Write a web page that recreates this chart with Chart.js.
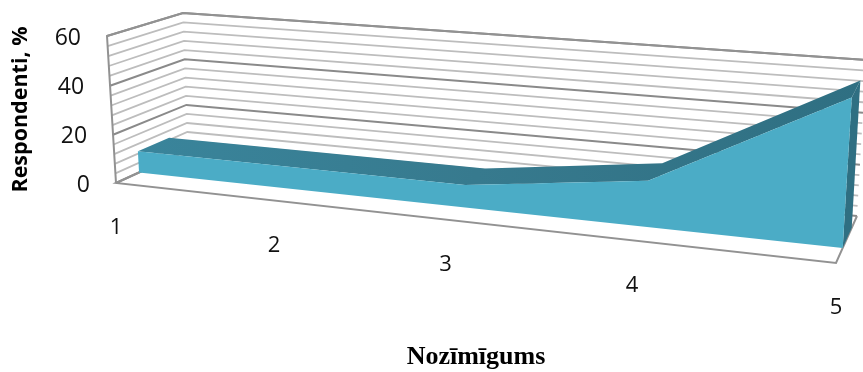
<!DOCTYPE html>
<html>
<head>
<meta charset="utf-8">
<style>
html, body { margin: 0; padding: 0; background: #fff; overflow: hidden; }
#wrap { width: 863px; height: 372px; }
</style>
<script src="https://cdn.jsdelivr.net/npm/chart.js@4"></script>
</head>
<body>
<div id="wrap"><canvas id="areaChart" width="863" height="372"></canvas></div>
<script>
const categories = ['1', '2', '3', '4', '5'];
const respondents = [9, 9, 9, 18, 56];
const yMajorLabels = [0, 20, 40, 60];

// box corners on screen: [bottom-left, bottom-right, top-right, top-left]
const frontWall = [[116, 183], [836, 263], [846, 99], [107, 36]];
const backWall = [[188, 150], [857, 216], [866, 60], [183, 13]];
const seriesFront = 0.32;
const seriesBack = 0.75;
const foreshorten = 1.022;
const labelForeshorten = 1.051;

function homography(q) {
    const [[x0, y0], [x1, y1], [x2, y2], [x3, y3]] = q;
    const dx1 = x1 - x2, dx2 = x3 - x2, sx = x0 - x1 + x2 - x3;
    const dy1 = y1 - y2, dy2 = y3 - y2, sy = y0 - y1 + y2 - y3;
    const det = dx1 * dy2 - dx2 * dy1;
    const g = (sx * dy2 - dx2 * sy) / det;
    const h = (dx1 * sy - sx * dy1) / det;
    const a = x1 - x0 + g * x1, b = x3 - x0 + h * x3;
    const d = y1 - y0 + g * y1, e = y3 - y0 + h * y3;
    return (u, v) => {
        const w = g * u + h * v + 1;
        return [(a * u + b * v + x0) / w, (d * u + e * v + y0) / w];
    };
}

const frontMap = homography(frontWall);
const backMap = homography(backWall);

function project(u, v, depth, r = foreshorten) {
    const s = u / (u + (1 - u) * r);
    const f = frontMap(s, v), b = backMap(s, v);
    return [f[0] + (b[0] - f[0]) * depth, f[1] + (b[1] - f[1]) * depth];
}

function polyline(ctx, pts, color, width) {
    ctx.beginPath();
    pts.forEach((p, i) => i ? ctx.lineTo(p[0], p[1]) : ctx.moveTo(p[0], p[1]));
    ctx.strokeStyle = color;
    ctx.lineWidth = width;
    ctx.stroke();
}

function polygon(ctx, pts, color) {
    ctx.beginPath();
    pts.forEach((p, i) => i ? ctx.lineTo(p[0], p[1]) : ctx.moveTo(p[0], p[1]));
    ctx.closePath();
    ctx.fillStyle = color;
    ctx.fill();
}

const box3d = {
    id: 'box3d',
    beforeDatasetsDraw(chart) {
        const ctx = chart.ctx, area = chart.chartArea;
        const yScale = chart.scales.y, xScale = chart.scales.x;
        const normY = px => (area.bottom - px) / area.height;
        const normX = px => (px - area.left) / area.width;

        ctx.save();
        // walls, from the value axis ticks
        yScale.ticks.forEach(t => {
            const v = normY(yScale.getPixelForValue(t.value));
            const major = yMajorLabels.includes(t.value);
            polyline(ctx, [project(0, v, 0), project(0, v, 1), project(1, v, 1)],
                major ? '#8a8a8a' : '#bdbdbd', major ? 2 : 1.8);
        });
        // frame
        polyline(ctx, [project(0, 0, 0), project(0, 1, 0), project(0, 1, 1), project(1, 1, 1)], '#929292', 2);
        polyline(ctx, [project(0, 0, 1), project(0, 0, 0), project(1, 0, 0), project(1, 0, 1)], '#929292', 2);

        // series
        const pts = chart.getDatasetMeta(0).data;
        const zero = normY(yScale.getPixelForValue(0));
        const tops = pts.map(p => [normX(p.x), normY(p.y)]);
        const last = tops[tops.length - 1];

        polygon(ctx, [project(1, zero, seriesFront), project(last[0], last[1], seriesFront),
            project(last[0], last[1], seriesBack), project(1, zero, seriesBack)], '#2f6f82');

        const shade = ctx.createLinearGradient(area.left, 0, area.right, 0);
        shade.addColorStop(0, '#3a869d');
        shade.addColorStop(0.5, '#377a8e');
        shade.addColorStop(1, '#2f6f82');
        const topFace = tops.map(p => project(p[0], p[1], seriesFront));
        tops.slice().reverse().forEach(p => topFace.push(project(p[0], p[1], seriesBack)));
        polygon(ctx, topFace, shade);

        const frontFace = tops.map(p => project(p[0], p[1], seriesFront));
        frontFace.push(project(1, zero, seriesFront), project(0, zero, seriesFront));
        polygon(ctx, frontFace, '#4bacc6');

        // tick labels follow the slanted edges
        ctx.font = '23px "Open Sans"';
        ctx.fillStyle = '#111';
        ctx.textBaseline = 'middle';
        ctx.textAlign = 'right';
        yScale.ticks.forEach(t => {
            if (!yMajorLabels.includes(t.value)) return;
            const p = project(0, normY(yScale.getPixelForValue(t.value)), 0);
            ctx.fillText(String(t.value), p[0] - 26, p[1] + 2);
        });
        ctx.textAlign = 'center';
        ctx.font = '22px "Open Sans"';
        xScale.ticks.forEach((t, i) => {
            const p = project(normX(xScale.getPixelForTick(i)), zero, 0, labelForeshorten);
            ctx.fillText(t.label, p[0], p[1] + 45);
        });
        ctx.restore();
    }
};

new Chart(document.getElementById('areaChart'), {
    type: 'line',
    plugins: [box3d],
    data: {
        labels: categories,
        datasets: [{
            label: 'Respondenti, %',
            data: respondents,
            showLine: false,
            pointRadius: 0,
            fill: false,
            backgroundColor: '#4bacc6',
            borderColor: '#4bacc6'
        }]
    },
    options: {
        responsive: false,
        animation: false,
        layout: { padding: { top: 36, left: 0, right: 0, bottom: 0 } },
        plugins: { legend: { display: false }, tooltip: { enabled: false } },
        scales: {
            x: {
                grid: { display: false },
                border: { display: false },
                ticks: { display: false, autoSkip: false },
                afterFit(s) { s.height = 189; },
                title: {
                    display: true,
                    text: 'Nozīmīgums',
                    color: '#000',
                    padding: 0,
                    font: { family: '"Liberation Serif"', size: 26, weight: 'bold', lineHeight: 1.1 }
                }
            },
            y: {
                min: 0,
                max: 60,
                grid: { display: false },
                border: { display: false },
                ticks: { display: false, stepSize: 4, autoSkip: false },
                afterFit(s) { s.width = 89; },
                title: {
                    display: true,
                    text: 'Respondenti, %',
                    color: '#000',
                    padding: { top: 8, bottom: 0 },
                    font: { family: '"Open Sans"', size: 21.5, weight: 'bold', lineHeight: 1.2 }
                }
            }
        }
    }
});
</script>
</body>
</html>
